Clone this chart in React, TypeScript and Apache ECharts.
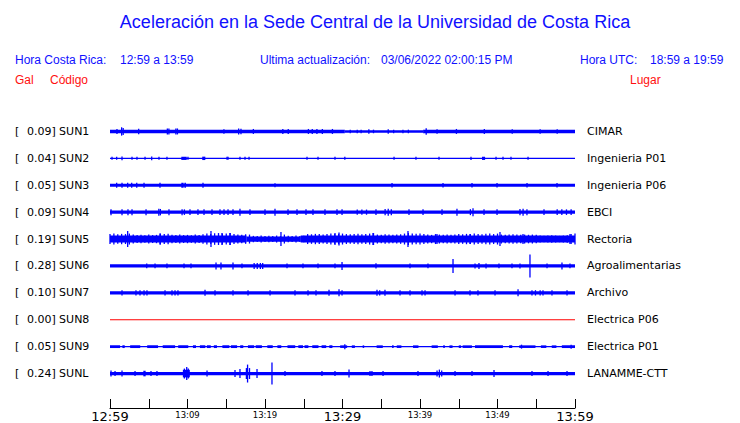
import React, { useEffect, useRef } from "react";
import * as echarts from "echarts";

// ---------- data ----------
const STATION_CODES = ["SUN1", "SUN2", "SUN3", "SUN4", "SUN5", "SUN6", "SUN7", "SUN8", "SUN9", "SUNL"];
const PEAK_GAL = ["0.09", "0.04", "0.05", "0.09", "0.19", "0.28", "0.10", "0.00", "0.05", "0.24"];
const STATION_NAMES = [
  "CIMAR", "Ingenieria P01", "Ingenieria P06", "EBCI", "Rectoria",
  "Agroalimentarias", "Archivo", "Electrica P06", "Electrica P01", "LANAMME-CTT",
];
const TICK_LABELS = ["12:59", "13:09", "13:19", "13:29", "13:39", "13:49", "13:59"];
const MAJOR_LABELS = ["12:59", "13:29", "13:59"];

// minutes since 12:59 ; half-amplitude of the trace envelope
// bands: [startMin, endMin, halfAmp]   spikes: [min, halfAmp]
const SUN1_BANDS = [[0, 30.3, 1.8], [30.3, 40.4, 1.3], [40.4, 60, 1.8]];
const SUN1_SPIKES = [[0.9, 2.5], [1.5, 4.2], [1.7, 3.5], [3.7, 2.7], [7.4, 3], [7.6, 3], [8.5, 3], [8.7, 3], [14.7, 2.3], [16.6, 3], [16.9, 2.8], [18.5, 2.5], [22.3, 2.5], [23.0, 2.5], [25.6, 2.5], [26.1, 2.5], [26.7, 2.5], [27.4, 2.5], [28.7, 2.5], [31.0, 1.8], [31.9, 1.8], [32.4, 1.8], [33.4, 2.3], [34.0, 1.8], [35.9, 2.3], [36.6, 1.8], [37.8, 1.8], [38.5, 1.8], [40.8, 3.3], [42.2, 2.3], [44.7, 2.5], [48.3, 2.5], [51.9, 2.3], [55.5, 2.3], [57.7, 2.3]];

const SUN2_BANDS = [[0, 60, 0.7], [9.2, 9.9, 1.6], [11.9, 12.3, 1.7], [48.0, 48.4, 1.6]];
const SUN2_SPIKES = [[0.26, 1.5], [0.86, 1.5], [1.55, 1.8], [2.84, 1.5], [3.48, 1.5], [4.52, 1.5], [5.38, 1.8], [6.32, 1.5], [7.35, 1.5], [10.06, 1.5], [15.1, 1.5], [15.23, 1.5], [16.77, 1.5], [17.42, 1.5], [17.94, 1.5], [25.42, 1.5], [26.84, 1.5], [29.03, 1.5], [30.3, 1.5], [36.65, 1.5], [39.48, 1.5], [42.45, 1.5], [46.58, 1.7], [49.81, 1.5], [50.71, 1.5], [51.74, 1.5], [53.94, 1.5]];

const SUN3_BANDS = [[0, 60, 1.6], [9.2, 9.5, 2.5], [9.6, 9.8, 2.5]];
const SUN3_SPIKES = [[0.86, 2.4], [1.55, 2.4], [2.28, 2.4], [2.8, 2.4], [3.45, 2.4], [4.39, 2.4], [6.45, 2.4], [12.0, 2.6], [21.29, 2.1], [36.39, 2.3], [42.97, 2.3], [46.71, 2.3], [49.94, 2.3], [53.81, 2.3], [57.68, 2.3]];

const SUN4_BANDS = [[0, 60, 1.7]];
const SUN4_SPIKES = [[0.13, 3], [1.55, 3], [2.32, 3], [2.84, 3], [4.65, 3], [6.3, 3.5], [6.5, 3.2], [7.61, 3], [9.3, 3], [9.6, 2.8], [10.32, 2.8], [11.35, 2.8], [12.13, 2.8], [13.16, 2.8], [14.19, 2.8], [14.71, 2.8], [15.23, 2.8], [15.87, 2.8], [16.77, 3.5], [18.06, 2.8], [20.0, 2.8], [21.29, 3.5], [22.97, 2.8], [24.13, 2.8], [25.29, 2.8], [26.19, 2.8], [27.74, 2.8], [29.29, 2.8], [29.94, 2.8], [31.9, 2.6], [32.5, 2.6], [33.1, 2.6], [34.32, 2.8], [35.5, 3.2], [35.9, 3.5], [36.3, 3], [38.58, 2.8], [40.39, 2.8], [42.84, 2.8], [44.77, 3.5], [46.5, 3], [46.84, 4], [48.26, 2.8], [49.94, 2.8], [52.9, 3.2], [53.3, 3.5], [53.8, 3], [56.0, 2.8], [57.7, 2.8], [58.3, 2.8], [58.9, 2.8], [59.5, 2.8]];

// Rectoria: core band, with a quieter stretch between ~13:16 and ~13:23
const SUN5_BANDS = [[0, 17.6, 3.5], [17.6, 24.6, 2.6], [24.6, 60, 3.5]];
// envelope sampled every half minute (index k -> k/2 minutes)
const SUN5_ENVELOPE = [
  5, 5.5, 4.8, 5.2, 5, 5.5, 4.5, 4, 4.2, 3.8, 4.5, 4, 4.2, 5.5, 5, 5.2,
  4.2, 4, 4.5, 4, 4.2, 3.8, 4.5, 4, 4.8, 5.5, 5, 5.8, 6, 5.5, 5.5, 6, 5,
  4.5, 4.2, 4.8, 4.5, 3.2, 3, 3.5, 3, 3.2, 3, 3.5, 3, 4.5, 3.2, 3, 3.5, 3, 3.2,
  5, 4.8, 5.2, 5, 4.5, 5, 5.5, 5, 5.2, 5.5,
  5, 4.8, 5, 5.2, 4.8, 5, 5.5, 6, 4.5, 4.2, 4.8, 4.5, 4.2, 4.5, 4.8,
  5.5, 6, 5.5, 5.2, 5.5, 5, 4.5, 4.2, 5, 4.5, 4.2, 4.5, 4.3, 4.5,
  5, 4.8, 5.2, 5, 5.5, 5, 4.8, 5.2, 5.5, 5, 5.5,
  4.5, 4.2, 4.5, 4.8, 4.5, 4.2, 4.5, 4.3, 4.5, 4.2,
  3.5, 3.2, 3.5, 3.8, 3.5, 3.2, 3.5, 3.8, 5, 5.5,
];
const SUN5_SPIKES = [[2.28, 8], [6.45, 5.5], [13.03, 8], [14.45, 6], [15.48, 6], [22.06, 7], [29.03, 6], [29.55, 6.5], [33.94, 6], [38.45, 8], [42.19, 5], [46.45, 5], [50.32, 7], [53.29, 5], [59.35, 5]];

const SUN6_BANDS = [[0, 60, 1.6]];
const SUN6_SPIKES = [[4.74, 2.4], [5.81, 2.4], [7.35, 2.4], [9.55, 2.4], [10.45, 2.4], [13.68, 3.5], [14.32, 3.5], [15.87, 3.5], [17.03, 2.4], [18.6, 3], [19.0, 3], [19.4, 3], [19.7, 3], [22.84, 2.4], [24.9, 2.4], [26.84, 2.4], [29.03, 2.4], [29.94, 4], [34.32, 2.6], [38.71, 2.4], [41.03, 2.4], [44.26, 7], [47.1, 2.5], [47.61, 3], [48.52, 2.5], [50.19, 2.4], [51.87, 2.4], [52.9, 2.5], [54.19, 11.5], [56.39, 2.4], [58.32, 3.5], [59.35, 2.4]];

const SUN7_BANDS = [[0, 60, 1.6]];
const SUN7_SPIKES = [[1.55, 2.7], [3.35, 2.7], [3.87, 2.7], [4.39, 2.7], [4.77, 2.7], [7.1, 2.7], [8.0, 2.7], [8.39, 2.7], [8.77, 2.7], [12.26, 3], [13.55, 2.7], [15.87, 2.7], [17.81, 2.7], [20.65, 2.7], [23.87, 2.7], [25.55, 2.7], [26.58, 2.7], [28.26, 3], [29.55, 3.5], [29.94, 2.7], [34.45, 3], [34.8, 2.7], [35.48, 3], [37.42, 2.7], [38.71, 2.7], [40.26, 2.7], [40.65, 2.7], [44.52, 2.7], [46.45, 2.7], [47.48, 2.7], [49.68, 2.7], [52.65, 3.5], [54.45, 2.7], [54.9, 2.7], [55.5, 2.7], [55.87, 2.7], [57.03, 2.7], [58.97, 2.7]];

const SUN8_BANDS = [[0, 60, 0.6]];
const SUN8_SPIKES: number[][] = [];

const SUN9_BANDS = [[0, 60, 0.6], [0, 1.3, 1.4], [1.6, 1.9, 1.4], [2.6, 3.9, 1.4], [4.8, 6.2, 1.4], [6.8, 8.4, 1.4], [8.8, 10.1, 1.4], [10.7, 11.1, 1.4], [11.6, 12.3, 1.4], [12.5, 13.0, 1.4], [13.4, 13.8, 1.4], [14.5, 15.4, 1.4], [15.6, 16.4, 1.4], [16.8, 17.2, 1.4], [17.8, 18.6, 1.4], [18.8, 19.6, 1.4], [20.3, 21.0, 1.4], [21.6, 22.1, 1.4], [22.9, 23.9, 1.4], [24.3, 24.9, 1.4], [25.1, 25.6, 1.4], [26.1, 26.9, 1.4], [27.3, 27.9, 1.4], [28.3, 28.7, 1.4], [29.7, 30.6, 1.3], [31.2, 31.6, 1.3], [32.6, 32.8, 1.3], [34.4, 35.2, 1.3], [36.4, 36.6, 1.3], [37.0, 37.6, 1.3], [39.1, 39.8, 1.3], [41.5, 42.3, 1.3], [43.0, 43.2, 1.3], [43.8, 44.2, 1.3], [45.0, 45.3, 1.3], [45.5, 46.7, 1.3], [47.1, 50.7, 1.4], [51.5, 51.9, 1.3], [52.8, 54.9, 1.3], [55.6, 56.3, 1.3], [57.0, 57.6, 1.3], [58.3, 60, 1.4]];
const SUN9_SPIKES = [[30.3, 2.5], [53.1, 2], [59.5, 2]];

const SUNL_BANDS = [[0, 60, 1.6], [4.3, 4.6, 2.8], [9.4, 10.3, 3.8]];
const SUNL_SPIKES = [[0.13, 3], [0.65, 2.5], [1.55, 3], [3.23, 2.5], [5.29, 2.5], [6.06, 2.5], [9.6, 5], [9.9, 6.5], [10.1, 5], [12.52, 3], [16.13, 3.5], [16.77, 4.5], [17.6, 5.5], [17.75, 9], [18.0, 5.5], [18.97, 4.5], [20.9, 11], [22.58, 2.5], [27.35, 2.5], [29.03, 2.5], [30.84, 4], [33.55, 2.5], [33.8, 2.5], [35.23, 2.5], [39.74, 2.5], [42.2, 3], [42.5, 4], [42.8, 3], [44.52, 2.5], [46.71, 2.5], [49.55, 3.5], [54.45, 2.5], [56.52, 2.5], [58.97, 2.5]];

const SUN5_ENV_SPIKES = SUN5_ENVELOPE.map((a, k) => [k / 2, a]);

const TRACE_BANDS = [SUN1_BANDS, SUN2_BANDS, SUN3_BANDS, SUN4_BANDS, SUN5_BANDS, SUN6_BANDS, SUN7_BANDS, SUN8_BANDS, SUN9_BANDS, SUNL_BANDS];
const TRACE_SPIKES = [SUN1_SPIKES, SUN2_SPIKES, SUN3_SPIKES, SUN4_SPIKES, SUN5_ENV_SPIKES.concat(SUN5_SPIKES), SUN6_SPIKES, SUN7_SPIKES, SUN8_SPIKES, SUN9_SPIKES, SUNL_SPIKES];
const TRACE_COLORS = ["#0000ff", "#0000ff", "#0000ff", "#0000ff", "#0000ff", "#0000ff", "#0000ff", "#ff0000", "#0000ff", "#0000ff"];

// amplitude units per row (one row of the plot)
const AMP_PER_ROW = 27;

const BLUE = "#1010ff";
const RED = "#ff1010";
const SANS = "'Liberation Sans', Arial, sans-serif";
const DEJAVU = "'DejaVu Sans', sans-serif";

export default function App() {
  const ref = useRef<HTMLDivElement>(null);

  useEffect(() => {
    if (!ref.current) return;
    const chart = echarts.init(ref.current, undefined, { renderer: "svg" });

    const series = STATION_CODES.map((code, row) => {
      const data: number[][] = [];
      TRACE_BANDS[row].forEach((b) => data.push([b[0], b[1], row, b[2]]));
      TRACE_SPIKES[row].forEach((s) => data.push([s[0], s[0], row, s[1]]));
      const color = TRACE_COLORS[row];
      return {
        type: "custom",
        name: code,
        xAxisIndex: 0,
        yAxisIndex: 2,
        clip: false,
        silent: true,
        data,
        encode: { x: [0, 1], y: 2 },
        renderItem: (_p: any, api: any) => {
          const t0 = api.value(0);
          const t1 = api.value(1);
          const r = api.value(2);
          const amp = api.value(3);
          const p0 = api.coord([t0, r]);
          const p1 = api.coord([t1, r]);
          const h = api.size([0, amp / AMP_PER_ROW])[1];
          let w = p1[0] - p0[0];
          let x = p0[0];
          if (w < 1.3) {
            x = p0[0] - 0.65;
            w = 1.3;
          }
          return {
            type: "rect",
            shape: { x, y: p0[1] - h, width: w, height: 2 * h },
            style: { fill: color },
          };
        },
      };
    });

    const text = (x: number, y: number, t: string, opts: any = {}) => ({
      type: "text",
      x,
      y,
      style: {
        text: t,
        fill: opts.fill || BLUE,
        fontFamily: opts.fontFamily || SANS,
        fontSize: opts.fontSize || 12,
        align: opts.align || "left",
        verticalAlign: "middle",
      },
    });

    chart.setOption({
      animation: false,
      backgroundColor: "#ffffff",
      graphic: [
        text(375, 22, "Aceleración en la Sede Central de la Universidad de Costa Rica", { fontSize: 18, align: "center" }),
        text(15, 60, "Hora Costa Rica:"),
        text(120, 60, "12:59 a 13:59"),
        text(260, 60, "Ultima actualización:"),
        text(381, 60, "03/06/2022 02:00:15 PM"),
        text(580, 60, "Hora UTC:"),
        text(650, 60, "18:59 a 19:59"),
        text(15, 80, "Gal", { fill: RED }),
        text(50, 80, "Código", { fill: RED }),
        text(630, 80, "Lugar", { fill: RED }),
      ],
      grid: { left: 110, right: 165, top: 118, height: 270, containLabel: false },
      xAxis: {
        type: "value",
        min: 0,
        max: 60,
        interval: 5,
        position: "bottom",
        offset: 21,
        axisLine: { show: true, onZero: false, lineStyle: { color: "#000", width: 1 } },
        axisTick: { show: true, inside: true, length: 9, lineStyle: { color: "#000", width: 1 } },
        splitLine: { show: false },
        axisLabel: {
          show: true,
          margin: 1,
          hideOverlap: false,
          showMinLabel: true,
          showMaxLabel: true,
          formatter: (v: number) => {
            if (v % 10 !== 0) return "";
            const lbl = TICK_LABELS[v / 10];
            return MAJOR_LABELS.includes(lbl) ? `{big|${lbl}}` : `{small|${lbl}}`;
          },
          rich: {
            big: { fontFamily: DEJAVU, fontSize: 13, color: "#000", lineHeight: 15 },
            small: { fontFamily: DEJAVU, fontSize: 8.5, color: "#000", lineHeight: 11 },
          },
        },
      },
      yAxis: [
        {
          type: "category",
          position: "left",
          inverse: true,
          data: STATION_CODES,
          axisLine: { show: false },
          axisTick: { show: false },
          splitLine: { show: false },
          axisLabel: {
            align: "left",
            margin: 95,
            formatter: (value: string, idx: number) => `{br|[}{v|${PEAK_GAL[idx]}]} {c|${value}}`,
            rich: {
              br: { fontFamily: DEJAVU, fontSize: 11, color: "#000", width: 12 },
              v: { fontFamily: DEJAVU, fontSize: 11, color: "#000" },
              c: { fontFamily: DEJAVU, fontSize: 11, color: "#000" },
            },
          },
        },
        {
          type: "category",
          position: "right",
          inverse: true,
          data: STATION_NAMES,
          axisLine: { show: false },
          axisTick: { show: false },
          splitLine: { show: false },
          axisLabel: { margin: 12, fontFamily: DEJAVU, fontSize: 11, color: "#000", align: "left" },
        },
        {
          type: "value",
          show: false,
          inverse: true,
          min: -0.5,
          max: 9.5,
          splitLine: { show: false },
        },
      ],
      series,
    });

    return () => chart.dispose();
  }, []);

  return (
    <div
      ref={ref}
      style={{ position: "absolute", left: 0, top: 0, width: 740, height: 423, background: "#fff" }}
    />
  );
}
